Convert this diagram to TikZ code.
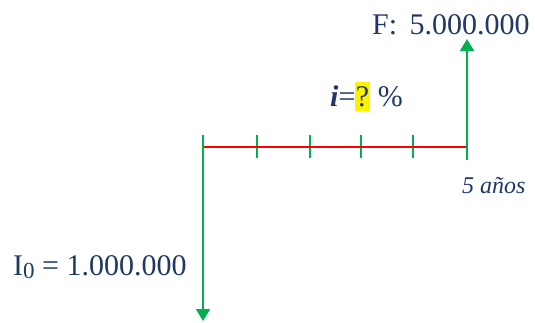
\documentclass[tikz,border=0pt]{standalone}
\usepackage{fontspec}
\setmainfont{Liberation Serif}
\usetikzlibrary{arrows.meta}

\definecolor{flowgreen}{RGB}{0,176,80}
\definecolor{linered}{RGB}{255,0,0}
\definecolor{textnavy}{RGB}{31,56,100}

\begin{document}
\begin{tikzpicture}[
    x=1pt, y=-1pt,
    flow/.style={line width=2pt, flowgreen, -{Triangle[length=12pt, width=14pt]}},
    tick/.style={line width=1.4pt, flowgreen},
    period/.style={line width=2.6pt, linered},
    amount/.style={textnavy, inner sep=0pt, anchor=base west,
        font=\fontsize{30}{33}\selectfont},
    years/.style={textnavy, inner sep=0pt, anchor=base west,
        font=\fontsize{24}{27}\selectfont\itshape},
]
\useasboundingbox (0,0) rectangle (535,322);

% =============================================================================
% Time line
% =============================================================================
\coordinate (t0) at (203,147);
\coordinate (t5) at (467,147);

\foreach \x in {257, 310, 361, 413} {
    \draw[tick] (\x,135) -- (\x,158);
}
\draw[period] (t0) -- (t5);

% =============================================================================
% Cash flows
% =============================================================================
\coordinate (outtop) at (203,135);
\coordinate (outend) at (203,321);
\coordinate (inbot) at (467,160);
\coordinate (inend) at (467,39);

\draw[flow] (outtop) -- (outend);
\draw[flow] (inbot) -- (inend);

% Labels
\node[amount] (fv) at (372,34) {F:\, 5.000.000};
\node[amount] (rate) at (330,106)
    {\textbf{\textit{i}}=\setlength{\fboxsep}{0.5pt}\colorbox{yellow}{\rule[-4pt]{0pt}{28pt}?}\hspace{8pt}\%};
\node[years] (n) at (462,193) {5 años};
\node[amount] (pv) at (13,275)
    {I\raisebox{-3pt}{\fontsize{23}{23}\selectfont 0} = 1.000.000};

\end{tikzpicture}
\end{document}
